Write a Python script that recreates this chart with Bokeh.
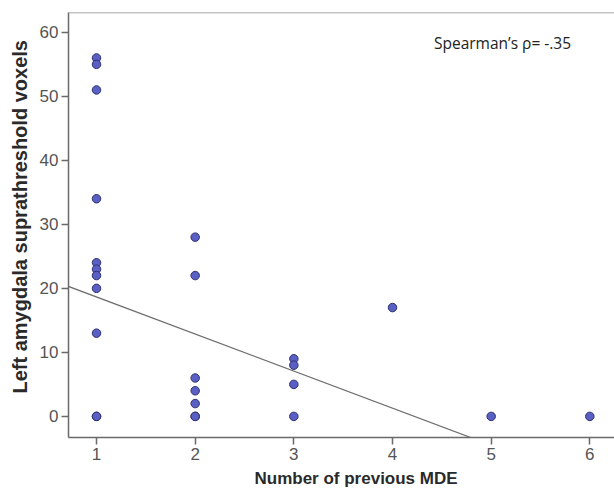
from bokeh.plotting import figure
from bokeh.models import Slope, Span, Label, FixedTicker, Range1d, Title
from bokeh.embed import file_html
from bokeh.resources import INLINE

# data
mde = [1, 1, 1, 1, 1, 1, 1, 1, 1, 1, 1,
       2, 2, 2, 2, 2, 2, 2,
       3, 3, 3, 3,
       4, 5, 6]
voxels = [56, 55, 51, 34, 24, 23, 22, 20, 13, 0, 0,
          28, 22, 6, 4, 2, 0, 0,
          9, 8, 5, 0,
          17, 0, 0]
fit_slope = -5.79
fit_intercept = 24.45
x_ticks = [1, 2, 3, 4, 5, 6]
y_ticks = [0, 10, 20, 30, 40, 50, 60]
annotation = "Spearman\u2019s \u03c1= -.35"
x_title = "Number of previous MDE"
y_title = "Left amygdala suprathreshold voxels"

X0, X1 = 0.716, 6.25
Y0, Y1 = -3.3, 63.1

p = figure(width=614, height=493, output_backend="svg", toolbar_location=None,
           x_range=Range1d(X0, X1), y_range=Range1d(Y0, Y1),
           min_border_left=68, min_border_right=0, min_border_top=12,
           min_border_bottom=56)
p.outline_line_color = None
p.xgrid.visible = False
p.ygrid.visible = False
p.background_fill_color = "white"
p.border_fill_color = "white"

p.add_layout(Span(location=Y1, dimension="width", line_color="#888888", line_width=1.5))

p.add_layout(Slope(gradient=fit_slope, y_intercept=fit_intercept,
                   line_color="#6e6e6e", line_width=1.3))

p.scatter(mde, voxels, size=8.5, fill_color="#5a5fc4", line_color="#2e3170",
          line_width=1)

for ax in (p.xaxis[0], p.yaxis[0]):
    ax.axis_line_color = "#6a6a6a"
    ax.axis_line_width = 1.5
    ax.major_tick_line_color = "#6a6a6a"
    ax.major_tick_line_width = 1.5
    ax.major_tick_out = 7
    ax.major_tick_in = 0
    ax.minor_tick_line_color = None
    ax.major_label_text_font = "Liberation Sans"
    ax.major_label_text_font_size = "17px"
    ax.major_label_text_color = "#555555"

p.xaxis.ticker = FixedTicker(ticks=x_ticks)
p.yaxis.ticker = FixedTicker(ticks=y_ticks)
p.xaxis.major_label_standoff = 3
p.yaxis.major_label_standoff = 3

# axis titles as Titles, offset like the reference
p.add_layout(Title(text=x_title, align="left", offset=186, standoff=8,
                   text_font="Liberation Sans", text_font_size="17px",
                   text_font_style="bold", text_color="#2a2a2a"), "below")
p.add_layout(Title(text=y_title, align="left", offset=44, standoff=11,
                   text_font="Liberation Sans", text_font_size="20px",
                   text_font_style="bold", text_color="#2a2a2a"), "left")

p.add_layout(Label(x=4.42, y=58.3, text=annotation, text_font="Open Sans",
                   text_font_size="15.5px", text_color="#222222",
                   text_baseline="middle", text_align="left"))

open("out.html", "w").write(file_html(p, INLINE))
